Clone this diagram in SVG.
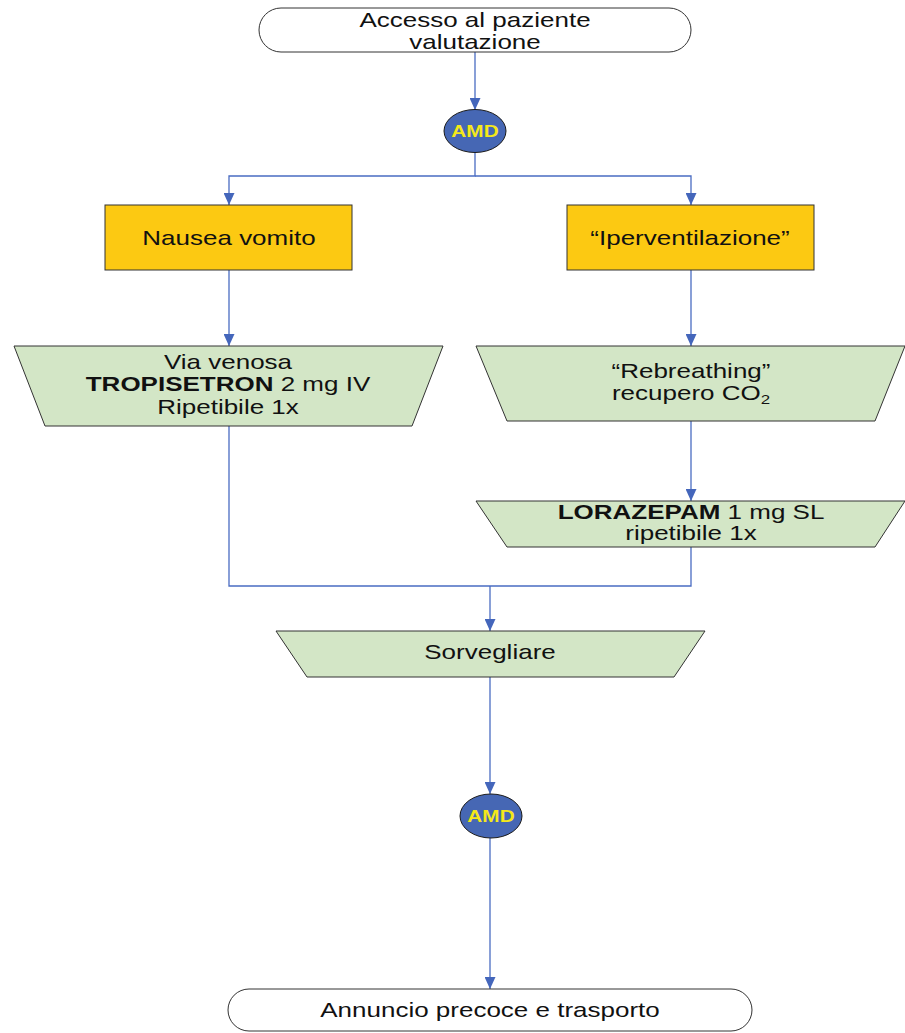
<svg xmlns="http://www.w3.org/2000/svg" width="905" height="1033" viewBox="0 0 905 1033">
  <defs>
    <marker id="arrow" markerUnits="userSpaceOnUse" markerWidth="12" markerHeight="11" refX="12" refY="5.5" orient="auto">
      <path d="M0,0 L12,5.5 L0,11 Z" fill="#4466bb"/>
    </marker>
    <style>
      .term { fill: #ffffff; stroke: #333333; stroke-width: 1; }
      .proc { fill: #fcc912; stroke: #333333; stroke-width: 1; }
      .manual { fill: #d3e6c6; stroke: #333333; stroke-width: 1; }
      .amd { fill: #4667b4; stroke: #1a1a1a; stroke-width: 1; }
      .conn { fill: none; stroke: #4a6cc2; stroke-width: 1.3; }
      .lbl { font-family: "Liberation Sans", Arial, sans-serif; font-size: 20px; fill: #111111; text-anchor: middle; }
      .amdlbl { font-family: "Liberation Sans", Arial, sans-serif; font-size: 16px; font-weight: bold; fill: #f4e81a; text-anchor: middle; }
      .b { font-weight: bold; }
    </style>
  </defs>

  <rect width="905" height="1033" fill="#ffffff"/>

  <!-- connectors -->
  <g id="connectors">
    <path class="conn" d="M475,52 L475,110" marker-end="url(#arrow)"/>
    <path class="conn" d="M475,153 L475,176 L229,176 L229,205" marker-end="url(#arrow)"/>
    <path class="conn" d="M475,176 L691,176 L691,205" marker-end="url(#arrow)"/>
    <path class="conn" d="M229,270 L229,346" marker-end="url(#arrow)"/>
    <path class="conn" d="M691,270 L691,346" marker-end="url(#arrow)"/>
    <path class="conn" d="M691,421 L691,501" marker-end="url(#arrow)"/>
    <path class="conn" d="M229,426 L229,586 L691,586 L691,547"/>
    <path class="conn" d="M490,586 L490,631" marker-end="url(#arrow)"/>
    <path class="conn" d="M490,677 L490,794" marker-end="url(#arrow)"/>
    <path class="conn" d="M490,838 L490,989" marker-end="url(#arrow)"/>
  </g>

  <!-- start: access and assessment -->
  <g id="start">
    <rect class="term" x="259" y="8" width="432" height="44" rx="22" ry="22"/>
    <text class="lbl" transform="translate(475,27) scale(1.3,1)">Accesso al paziente</text>
    <text class="lbl" transform="translate(475,49) scale(1.3,1)">valutazione</text>
  </g>

  <!-- first AMD check -->
  <g id="amd1">
    <ellipse class="amd" cx="475" cy="131" rx="31" ry="21.5"/>
    <text class="amdlbl" transform="translate(475,137) scale(1.3,1)">AMD</text>
  </g>

  <!-- branch: nausea -->
  <g id="nausea">
    <rect class="proc" x="105" y="205" width="247" height="65"/>
    <text class="lbl" transform="translate(229,245) scale(1.3,1)">Nausea vomito</text>
  </g>

  <!-- branch: hyperventilation -->
  <g id="iperventilazione">
    <rect class="proc" x="567" y="205" width="247" height="65"/>
    <text class="lbl" transform="translate(690,245) scale(1.3,1)">“Iperventilazione”</text>
  </g>

  <!-- tropisetron -->
  <g id="tropisetron">
    <polygon class="manual" points="14,346 443,346 412,426 45,426"/>
    <text class="lbl" transform="translate(228,369) scale(1.3,1)">Via venosa</text>
    <text class="lbl" transform="translate(228,391) scale(1.3,1)"><tspan class="b">TROPISETRON</tspan> 2 mg IV</text>
    <text class="lbl" transform="translate(228,414) scale(1.3,1)">Ripetibile 1x</text>
  </g>

  <!-- rebreathing -->
  <g id="rebreathing">
    <polygon class="manual" points="476,346 905,346 875,421 507,421"/>
    <text class="lbl" transform="translate(691,378) scale(1.3,1)">“Rebreathing”</text>
    <text class="lbl" transform="translate(691,400) scale(1.3,1)">recupero CO<tspan font-size="13" dy="4">2</tspan></text>
  </g>

  <!-- lorazepam -->
  <g id="lorazepam">
    <polygon class="manual" points="476,501 905,501 875,547 507,547"/>
    <text class="lbl" transform="translate(691,519) scale(1.3,1)"><tspan class="b">LORAZEPAM</tspan> 1 mg SL</text>
    <text class="lbl" transform="translate(691,540) scale(1.3,1)">ripetibile 1x</text>
  </g>

  <!-- monitoring -->
  <g id="sorvegliare">
    <polygon class="manual" points="276,631 705,631 674,677 307,677"/>
    <text class="lbl" transform="translate(490,659) scale(1.3,1)">Sorvegliare</text>
  </g>

  <!-- second AMD check -->
  <g id="amd2">
    <ellipse class="amd" cx="491" cy="816" rx="31" ry="22"/>
    <text class="amdlbl" transform="translate(491,822) scale(1.3,1)">AMD</text>
  </g>

  <!-- end: pre-alert and transport -->
  <g id="end">
    <rect class="term" x="228" y="989" width="524" height="42" rx="21" ry="21"/>
    <text class="lbl" transform="translate(490,1017) scale(1.3,1)">Annuncio precoce e trasporto</text>
  </g>
</svg>
